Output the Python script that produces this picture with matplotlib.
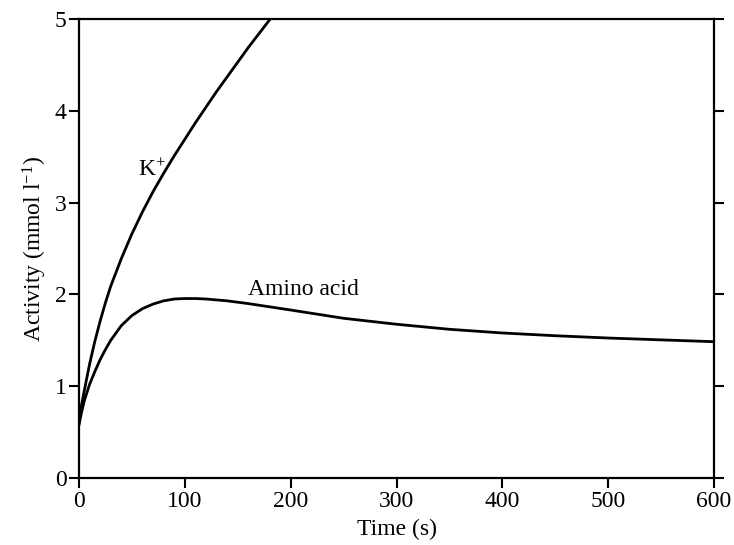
import matplotlib
matplotlib.use("Agg")
import matplotlib.pyplot as plt

# Values
k_time = [0, 2.5, 5, 10, 15, 20, 25, 30, 40, 50, 60, 70, 80, 90, 100, 110, 120, 130, 140, 150, 160, 170, 180]
k_activity = [0.6, 0.8, 0.95, 1.24, 1.49, 1.71, 1.91, 2.09, 2.39, 2.66, 2.9, 3.12, 3.32, 3.51, 3.69, 3.87,
              4.04, 4.21, 4.37, 4.53, 4.69, 4.84, 4.99]

aa_time = [0, 2.5, 5, 10, 15, 20, 25, 30, 40, 50, 60, 70, 80, 90, 100, 110, 120, 140, 160, 180, 200, 250,
           300, 350, 400, 450, 500, 550, 600]
aa_activity = [0.58, 0.72, 0.84, 1.02, 1.16, 1.29, 1.4, 1.5, 1.66, 1.77, 1.845, 1.895, 1.93, 1.95, 1.955,
               1.955, 1.95, 1.93, 1.9, 1.865, 1.83, 1.74, 1.675, 1.62, 1.58, 1.55, 1.525, 1.505, 1.485]

x_ticks = [0, 100, 200, 300, 400, 500, 600]
y_ticks = [0, 1, 2, 3, 4, 5]

plt.rcParams["font.family"] = ["Liberation Serif", "DejaVu Serif"]
plt.rcParams["mathtext.fontset"] = "custom"
plt.rcParams["mathtext.rm"] = "Liberation Serif"
plt.rcParams["mathtext.it"] = "Liberation Serif:italic"

fig = plt.figure(figsize=(7.34, 5.45), dpi=100)
ax = fig.add_axes([0.1076, 0.1229, 0.8652, 0.8422])

ax.plot(k_time, k_activity, color="black", lw=2.0)
ax.plot(aa_time, aa_activity, color="black", lw=2.0)

ax.text(56, 3.35, r"K$^{+}$", fontsize=17, ha="left", va="center")
ax.text(160, 2.05, "Amino acid", fontsize=17, ha="left", va="center")

ax.set_xlim(0, 600)
ax.set_ylim(0, 5)
ax.set_xticks(x_ticks)
ax.set_yticks(y_ticks)
ax.tick_params(axis="both", direction="out", length=7, width=1.5, labelsize=17, pad=2)
ax.tick_params(axis="y", right=True, labelright=False)
for side in ax.spines.values():
    side.set_linewidth(1.6)

ax.set_xlabel("Time (s)", fontsize=17, labelpad=5)
ax.set_ylabel(r"Activity (mmol l$^{-1}$)", fontsize=17, labelpad=4)

fig.savefig("out.png", dpi=100)
